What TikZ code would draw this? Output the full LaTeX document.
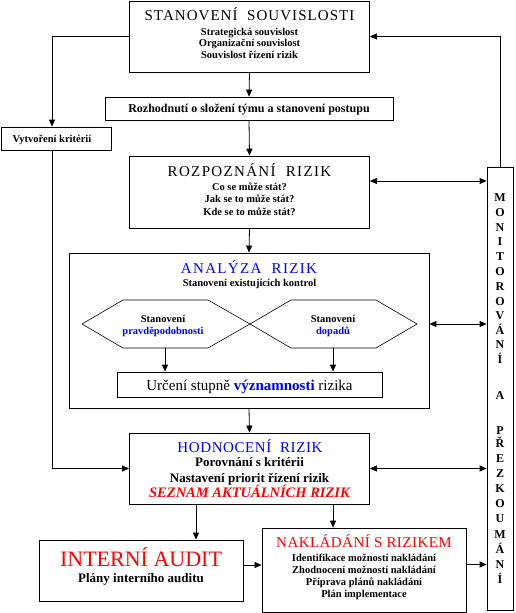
\documentclass[tikz,border=0pt]{standalone}
\usepackage{fontspec}
\setmainfont{Liberation Serif}
\usetikzlibrary{arrows.meta,fit}
\definecolor{tblue}{RGB}{0,0,255}
\definecolor{tred}{RGB}{255,0,0}
\begin{document}
\begin{tikzpicture}[x=1pt,y=-1pt,
  box/.style={draw, line width=0.8pt, inner sep=0pt},
  arr/.style={-{Triangle[length=7pt,width=6pt]}, line width=0.8pt},
  darr/.style={{Triangle[length=7pt,width=6pt]}-{Triangle[length=7pt,width=6pt]}, line width=0.8pt},
  txt/.style={inner sep=0pt, anchor=base},
  title/.style={txt, font=\fontsize{15}{15}\selectfont\addfontfeature{LetterSpace=9}},
  sub/.style={txt, font=\bfseries\fontsize{10.5}{10.5}\selectfont},
  mid/.style={txt, font=\bfseries\fontsize{13}{13}\selectfont},
  mon/.style={txt, font=\bfseries\fontsize{12}{12}\selectfont}]
\useasboundingbox (0,0) rectangle (515,613);

% boxes
\node[box, fit={(129.5,1) (369.5,72)}] (ctx) {};
\node[box, fit={(105,97) (393,120)}] (team) {};
\node[box, fit={(1,127) (111,150)}] (crit) {};
\node[box, fit={(129.5,156) (369.5,228)}] (rec) {};
\node[box, fit={(69,253) (429,408)}] (ana) {};
\node[box, fit={(117,372) (382,397)}] (urc) {};
\node[box, fit={(129.5,433) (369.5,504)}] (hod) {};
\node[box, fit={(39,540) (243,601)}] (aud) {};
\node[box, fit={(262,528) (466,612)}] (nak) {};
\node[box, fit={(487,167) (513,610)}] (mon) {};

% hexagons
\coordinate (hx) at (250,324);
\draw[line width=0.6pt] (82,324) -- (123,300) -- (208,300) -- (hx) -- (208,348) -- (123,348) -- cycle;
\draw[line width=0.6pt] (hx) -- (291,300) -- (376,300) -- (417,324) -- (376,348) -- (291,348) -- cycle;
\coordinate (hl) at (165,348);
\coordinate (hr) at (333,348);

% texts
\node[title, font=\fontsize{15}{15}\selectfont\addfontfeature{LetterSpace=7}] (t1) at (249.5,20) {STANOVENÍ\ \ SOUVISLOSTI};
\node[sub] (t1a) at (249.5,35) {Strategická souvislost};
\node[sub] (t1b) at (249.5,46.5) {Organizační souvislost};
\node[sub] (t1c) at (249.5,58) {Souvislost řízení rizik};
\node[txt, font=\bfseries\fontsize{12}{12}\selectfont] (t2) at (249,112.5) {Rozhodnutí o složení týmu a stanovení postupu};
\node[sub] (t3) at (52,142) {Vytvoření kritérií};
\node[title] (t4) at (249.5,176.7) {ROZPOZNÁNÍ\ \ RIZIK};
\node[sub] (t4a) at (249.5,190.7) {Co se může stát?};
\node[sub] (t4b) at (249.5,202) {Jak se to může stát?};
\node[sub] (t4c) at (249.5,215) {Kde se to může stát?};
\node[title, text=tblue] (t5) at (249,273.3) {ANALÝZA\ \ RIZIK};
\node[sub] (t5a) at (249.5,286.7) {Stanovení existujících kontrol};
\node[sub] (h1) at (163,322.7) {Stanovení};
\node[sub, text=tblue] (h2) at (163,334.5) {pravděpodobnosti};
\node[sub] (h3) at (333,322.7) {Stanovení};
\node[sub, text=tblue] (h4) at (333,334.5) {dopadů};
\node[txt, font=\fontsize{15}{15}\selectfont] (t6) at (249.5,390.7) {Určení stupně \textcolor{tblue}{\bfseries významnosti} rizika};
\node[title, text=tblue, font=\fontsize{15}{15}\selectfont\addfontfeature{LetterSpace=4}] (t7) at (250,452.3) {HODNOCENÍ\ \ RIZIK};
\node[mid] (t7a) at (249.5,466.7) {Porovnání s kritérii};
\node[mid] (t7b) at (249.5,482.7) {Nastavení priorit řízení rizik};
\node[txt, text=tred, font=\bfseries\itshape\fontsize{14.5}{14.5}\selectfont] (t7c) at (249.5,497) {SEZNAM AKTUÁLNÍCH RIZIK};
\node[txt, text=tred, font=\fontsize{22}{22}\selectfont] (t8) at (141,566.7) {INTERNÍ AUDIT};
\node[txt, font=\bfseries\fontsize{13}{13}\selectfont] (t8a) at (141,582) {Plány interního auditu};
\node[txt, text=tred, font=\fontsize{15}{15}\selectfont\addfontfeature{LetterSpace=3}] (t9) at (364,547) {NAKLÁDÁNÍ S RIZIKEM};
\node[sub] (t9a) at (364,561) {Identifikace možností nakládání};
\node[sub] (t9b) at (364,573) {Zhodnocení možností nakládání};
\node[sub] (t9c) at (364,585) {Příprava plánů nakládání};
\node[sub] (t9d) at (364,597) {Plán implementace};

% monitoring letters
\foreach \l/\y [count=\i] in {M/197,O/212,N/226.5,I/241,T/256,O/271,R/286,O/300.5,V/315,Á/329.5,N/344,Í/359,A/395,P/430,Ř/443,E/458,Z/473,K/488,O/503,U/518,M/533.5,Á/549,N/564,Í/579}
  \node[mon] (m\i) at (500,\y+4.5) {\l};

% connectors
\draw[arr] (ctx.south) -- (team.north);
\draw[arr] (team.south) -- (rec.north);
\draw[arr] (ctx.west) -| ([xshift=-4pt]crit.north);
\draw[arr] ([xshift=-4pt]crit.south) |- (hod.west);
\draw[arr] (mon.north) |- (ctx.east);
\coordinate (r1) at ([yshift=11pt]rec.east);
\draw[darr] (r1) -- (r1 -| mon.west);
\draw[arr] (rec.south) -- (ana.north);
\coordinate (a1) at ([yshift=6.5pt]ana.east);
\draw[darr] (a1) -- (a1 -| mon.west);
\draw[arr] (hl) -- (hl |- urc.north);
\draw[arr] (hr) -- (hr |- urc.north);
\draw[arr] (ana.south) -- (hod.north);
\draw[darr] (hod.east) -- (hod.east -| mon.west);
\coordinate (d1) at (196,504);
\draw[arr] (d1) -- (d1 |- aud.north);
\coordinate (d2) at (333,504);
\draw[arr] (d2) -- (d2 |- nak.north);
\coordinate (e1) at ([yshift=5.5pt]aud.east);
\draw[arr] (e1) -- (e1 -| nak.west);
\coordinate (e2) at ([yshift=5.5pt]nak.east);
\draw[arr] (e2) -- (e2 -| mon.west);
\end{tikzpicture}
\end{document}
